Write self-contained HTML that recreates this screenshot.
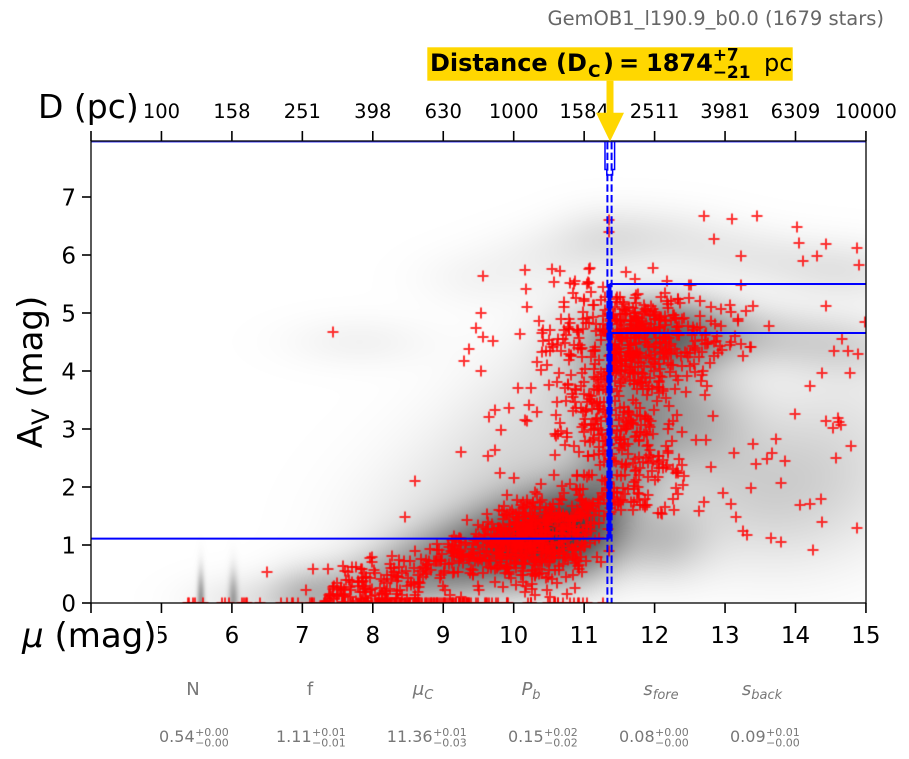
<!DOCTYPE html>
<html><head><meta charset="utf-8">
<style>
html,body{margin:0;padding:0;background:#fff;}
#wrap{position:relative;width:909px;height:759px;overflow:hidden;background:#fff;}
#c{position:absolute;left:91px;top:141px;width:775px;height:462px;}
svg{position:absolute;left:0;top:0;}
text{font-family:"DejaVu Sans","Liberation Sans",sans-serif;}
</style></head>
<body><div id="wrap">
<canvas id="c" width="775" height="462"></canvas>
<svg width="909" height="759" viewBox="0 0 909 759" xmlns="http://www.w3.org/2000/svg">
<!-- blue lines -->
<g stroke="#0000ff" fill="none">
<line x1="91" y1="538.6" x2="609.5" y2="538.6" stroke-width="2"/>
<line x1="609.5" y1="284" x2="866" y2="284" stroke-width="2"/>
<line x1="609.5" y1="333" x2="866" y2="333" stroke-width="2"/>
<line x1="609.5" y1="284" x2="609.5" y2="538.6" stroke-width="4"/>
<line x1="607.4" y1="142" x2="607.4" y2="603" stroke-width="2" stroke-dasharray="7.4,3.2"/>
<line x1="611.6" y1="142" x2="611.6" y2="603" stroke-width="2" stroke-dasharray="7.4,3.2"/>
<path d="M605,142 V169.5 H606.8 V175 H612.6 V169.5 H614.6 V142" stroke-width="1.5"/>
<line x1="91" y1="142" x2="866" y2="142" stroke-width="0.8"/>
</g>
<!-- spines -->
<rect x="91" y="141" width="775" height="462" fill="none" stroke="#000" stroke-width="1.3"/>
<!-- ticks -->
<g stroke="#000" stroke-width="1.6">
<line x1="91" y1="603" x2="91" y2="613"/><line x1="161.45" y1="603" x2="161.45" y2="613"/><line x1="231.9" y1="603" x2="231.9" y2="613"/><line x1="302.35" y1="603" x2="302.35" y2="613"/><line x1="372.8" y1="603" x2="372.8" y2="613"/><line x1="443.25" y1="603" x2="443.25" y2="613"/><line x1="513.7" y1="603" x2="513.7" y2="613"/><line x1="584.15" y1="603" x2="584.15" y2="613"/><line x1="654.6" y1="603" x2="654.6" y2="613"/><line x1="725.05" y1="603" x2="725.05" y2="613"/><line x1="795.5" y1="603" x2="795.5" y2="613"/><line x1="865.95" y1="603" x2="865.95" y2="613"/>
<line x1="91" y1="131" x2="91" y2="141"/><line x1="161.45" y1="131" x2="161.45" y2="141"/><line x1="231.9" y1="131" x2="231.9" y2="141"/><line x1="302.35" y1="131" x2="302.35" y2="141"/><line x1="372.8" y1="131" x2="372.8" y2="141"/><line x1="443.25" y1="131" x2="443.25" y2="141"/><line x1="513.7" y1="131" x2="513.7" y2="141"/><line x1="584.15" y1="131" x2="584.15" y2="141"/><line x1="654.6" y1="131" x2="654.6" y2="141"/><line x1="725.05" y1="131" x2="725.05" y2="141"/><line x1="795.5" y1="131" x2="795.5" y2="141"/><line x1="865.95" y1="131" x2="865.95" y2="141"/>
<line x1="82" y1="603" x2="91" y2="603"/><line x1="82" y1="545" x2="91" y2="545"/><line x1="82" y1="487" x2="91" y2="487"/><line x1="82" y1="429" x2="91" y2="429"/><line x1="82" y1="371" x2="91" y2="371"/><line x1="82" y1="313" x2="91" y2="313"/><line x1="82" y1="255" x2="91" y2="255"/><line x1="82" y1="197" x2="91" y2="197"/>
</g>
<!-- bottom tick labels -->
<g font-size="23" text-anchor="middle" fill="#000">
<text x="161.45" y="643">5</text><text x="231.9" y="643">6</text><text x="302.35" y="643">7</text><text x="372.8" y="643">8</text><text x="443.25" y="643">9</text><text x="513.7" y="643">10</text><text x="584.15" y="643">11</text><text x="654.6" y="643">12</text><text x="725.05" y="643">13</text><text x="795.5" y="643">14</text><text x="865.95" y="643">15</text>
</g>
<!-- left tick labels -->
<g font-size="23" text-anchor="end" fill="#000">
<text x="76" y="611.3">0</text><text x="76" y="553.3">1</text><text x="76" y="495.3">2</text><text x="76" y="437.3">3</text><text x="76" y="379.3">4</text><text x="76" y="321.3">5</text><text x="76" y="263.3">6</text><text x="76" y="205.3">7</text>
</g>
<!-- top tick labels -->
<g font-size="19.5" text-anchor="middle" fill="#000">
<text x="161.45" y="118">100</text><text x="231.9" y="118">158</text><text x="302.35" y="118">251</text><text x="372.8" y="118">398</text><text x="443.25" y="118">630</text><text x="513.7" y="118">1000</text><text x="584.15" y="118">1584</text><text x="654.6" y="118">2511</text><text x="725.05" y="118">3981</text><text x="795.5" y="118">6309</text><text x="865.95" y="118">10000</text>
</g>
<!-- axis labels -->
<rect x="16" y="615" width="142" height="48" fill="#fff"/>
<text x="22" y="647" font-size="34" fill="#000"><tspan font-style="italic">μ</tspan> (mag)</text>
<text x="38" y="118" font-size="33" fill="#000">D (pc)</text>
<text transform="translate(42,372) rotate(-90)" text-anchor="middle" font-size="34" fill="#000">A<tspan font-size="24" dy="7">V</tspan><tspan dy="-7"> (mag)</tspan></text>
<!-- title -->
<text x="884" y="25" font-size="19.5" text-anchor="end" fill="#666">GemOB1_l190.9_b0.0 (1679 stars)</text>
<!-- distance box & arrow -->
<rect x="427.3" y="47.3" width="365.4" height="33.4" fill="#FFD700"/>
<rect x="606.5" y="80.7" width="7" height="33" fill="#FFD700"/>
<polygon points="596,112.7 624,112.7 610,141.5" fill="#FFD700"/>
<g fill="#000">
<text x="430" y="71" font-size="24" font-weight="bold">Distance (D</text>
<text x="588" y="77" font-size="17" font-weight="bold">C</text>
<text x="603" y="71" font-size="24" font-weight="bold">)</text>
<text x="619" y="71" font-size="24" font-weight="bold">=</text>
<text x="646" y="71" font-size="24" font-weight="bold">1874</text>
<text x="712.7" y="60.5" font-size="17" font-weight="bold">+7</text>
<text x="712.7" y="78" font-size="17" font-weight="bold">−21</text>
<text x="764" y="71" font-size="24">pc</text>
</g>
<!-- parameter labels -->
<g fill="#777" font-size="18" text-anchor="middle">
<text x="193" y="695">N</text>
<text x="310" y="695">f</text>
<text x="423" y="695"><tspan font-style="italic">μ</tspan><tspan font-style="italic" font-size="13" dy="4">C</tspan></text>
<text x="531" y="695"><tspan font-style="italic">P</tspan><tspan font-style="italic" font-size="13" dy="4">b</tspan></text>
<text x="661" y="695"><tspan font-style="italic">s</tspan><tspan font-style="italic" font-size="13" dy="4">fore</tspan></text>
<text x="762" y="695"><tspan font-style="italic">s</tspan><tspan font-style="italic" font-size="13" dy="4">back</tspan></text>
</g>
<g fill="#777">
<text x="159" y="742" font-size="16">0.54</text><text x="195.1" y="736" font-size="11">+0.00</text><text x="195.1" y="746.5" font-size="11">−0.00</text>
<text x="276" y="742" font-size="16">1.11</text><text x="312" y="736" font-size="11">+0.01</text><text x="312" y="746.5" font-size="11">−0.01</text>
<text x="386.8" y="742" font-size="16">11.36</text><text x="433.1" y="736" font-size="11">+0.01</text><text x="433.1" y="746.5" font-size="11">−0.03</text>
<text x="508" y="742" font-size="16">0.15</text><text x="544" y="736" font-size="11">+0.02</text><text x="544" y="746.5" font-size="11">−0.02</text>
<text x="619" y="742" font-size="16">0.08</text><text x="655" y="736" font-size="11">+0.00</text><text x="655" y="746.5" font-size="11">−0.00</text>
<text x="730" y="742" font-size="16">0.09</text><text x="766" y="736" font-size="11">+0.01</text><text x="766" y="746.5" font-size="11">−0.00</text>
</g>
</svg>
</div>
<script>
(function(){
var W=775,H=462,SX=70.45,SY=58;
var cv=document.getElementById('c');var ctx=cv.getContext('2d');
function interp(P,u){if(u<=P[0][0])return P[0][1];for(var i=1;i<P.length;i++){if(u<=P[i][0]){var t=(u-P[i-1][0])/(P[i][0]-P[i-1][0]);return P[i-1][1]+t*(P[i][1]-P[i-1][1]);}}return P[P.length-1][1];}
var BP=[[5,0],[7,0.1],[8,0.3],[9,0.7],[10,1.05],[10.5,1.15],[11,1.3],[11.4,1.6],[12,1.8]];
function band(u){return interp(BP,u);}
var AP=[[7,0.07],[8,0.11],[8.5,0.16],[9,0.2],[9.5,0.27],[10,0.35],[10.5,0.42],[11,0.4],[11.3,0.4]];
var B=[];
for(var u=7.0;u<=11.31;u+=0.25){B.push([u,band(u),0.35,0.3+0.06*(u-7),interp(AP,u)]);}
B=B.concat([
[11.55,2.3,0.4,0.45,0.3],[11.6,2.9,0.42,0.45,0.3],[11.65,3.5,0.45,0.45,0.26],[11.7,4.0,0.5,0.4,0.22],
[12.0,4.6,0.6,0.42,0.85],
[12.8,4.65,0.5,0.35,0.2],[13.5,4.6,0.5,0.35,0.12],[14.2,4.5,0.5,0.35,0.1],[14.9,4.4,0.5,0.35,0.1],
[12.5,3.2,0.55,0.6,0.32],[13.6,2.0,1.0,0.9,0.2],[14.8,3.0,0.8,1.2,0.08],[12.1,1.1,0.45,0.45,0.25],
[10.9,4.0,0.45,0.9,0.1],
[8.5,1.0,0.8,0.9,0.06],[9.5,1.8,0.8,1.0,0.1],[10.3,2.8,0.7,1.1,0.11],
[9.5,5.6,0.6,0.35,0.04],[10.5,6.0,0.6,0.35,0.05],[11.3,6.3,0.5,0.35,0.1],[12.2,6.3,0.6,0.35,0.08],[13.2,6.0,0.6,0.35,0.07],[14.2,5.8,0.6,0.35,0.07],[15,5.7,0.6,0.35,0.07],
[7.8,4.5,0.7,0.3,0.05],
[5.56,0,0.035,0.35,0.5],[6.02,0,0.045,0.35,0.4],[6.3,0.05,0.6,0.3,0.1],[7.0,0.15,0.35,0.35,0.12]
]);
var img=ctx.createImageData(W,H);var d=img.data;
for(var py=0;py<H;py++){var a=(H-(py+0.5))/SY;
 for(var px=0;px<W;px++){var uu=4+(px+0.5)/SX;var F=0;
  for(var k=0;k<B.length;k++){var b=B[k];var dx=(uu-b[0])/b[2],dy=(a-b[1])/b[3];var q=dx*dx+dy*dy;if(q<18)F+=b[4]*Math.exp(-0.5*q);}
  var g=Math.round(255*Math.exp(-F));var i=(py*W+px)*4;d[i]=g;d[i+1]=g;d[i+2]=g;d[i+3]=255;}}
ctx.putImageData(img,0,0);
// points
var s=12345;function R(){s|=0;s=s+0x6D2B79F5|0;var t=Math.imul(s^s>>>15,1|s);t=t+Math.imul(t^t>>>7,61|t)^t;return((t^t>>>14)>>>0)/4294967296;}
function N(){var x=1-R(),y=R();return Math.sqrt(-2*Math.log(x))*Math.cos(2*Math.PI*y);}
var pts=[],i,u1,a1;
for(i=0;i<170;i++){if(R()<0.7){u1=8.6+0.55*N();}else{u1=5.3+6*R();}if(u1<5.3||u1>11.35){i--;continue;}pts.push([u1,0]);}
for(i=0;i<180;i++){u1=7.3+2.0*R();a1=band(u1)+0.22*N();pts.push([u1,Math.abs(a1)]);}
for(i=0;i<600;i++){u1=10.3+0.5*N();if(u1<8.7||u1>11.38){i--;continue;}a1=band(u1)+(0.26+0.08*(u1-9))*N();pts.push([u1,Math.abs(a1)]);}
for(i=0;i<280;i++){a1=1.5+2.5*R();u1=11.65+0.45*N();if(u1<10.6||u1>13.0){i--;continue;}pts.push([u1,a1]);}
for(i=0;i<380;i++){a1=4.55+0.4*N();if(R()<0.85){u1=11.36+Math.abs(0.75*N());}else{u1=11.36-Math.abs(0.35*N());}if(u1>13.8){i--;continue;}pts.push([u1,a1]);}
for(i=0;i<120;i++){u1=11.3-Math.abs(0.8*N());if(u1<9.2){i--;continue;}a1=2.5+3.4*R();pts.push([u1,a1]);}
for(i=0;i<45;i++){u1=12.6+2.4*R();if(R()<0.5){a1=4+2.5*R();}else{a1=1+3*R();}pts.push([u1,a1]);}
pts=pts.concat([[7.43,4.68],[6.5,0.53],[7.15,0.58],[7.05,0.22],[7.7,0.37],[8.45,1.48],[8.6,2.1],[9.25,2.6],[9.3,4.17],[9.7,4.52],[9.65,3.2],[9.8,2.25],
[14.25,0.92],[13.25,1.25],[14.2,1.7],[13.85,2.45],[13.4,2.75],[14.2,3.75],[14.75,4.35],[14.55,4.35],[14.98,4.85],[12.7,6.68],[13.1,6.62],[13.45,6.68],[11.35,6.6],[11.35,6.4],[14.3,5.98],[14.1,5.9]]);
ctx.strokeStyle='rgba(255,0,0,0.8)';ctx.lineWidth=2;
for(i=0;i<pts.length;i++){var x=Math.round((pts[i][0]-4)*SX),y=Math.round(H-pts[i][1]*SY);
 ctx.beginPath();ctx.moveTo(x-5.5,y);ctx.lineTo(x+5.5,y);ctx.moveTo(x,y-5.5);ctx.lineTo(x,y+5.5);ctx.stroke();}
})();
</script>
</body></html>
